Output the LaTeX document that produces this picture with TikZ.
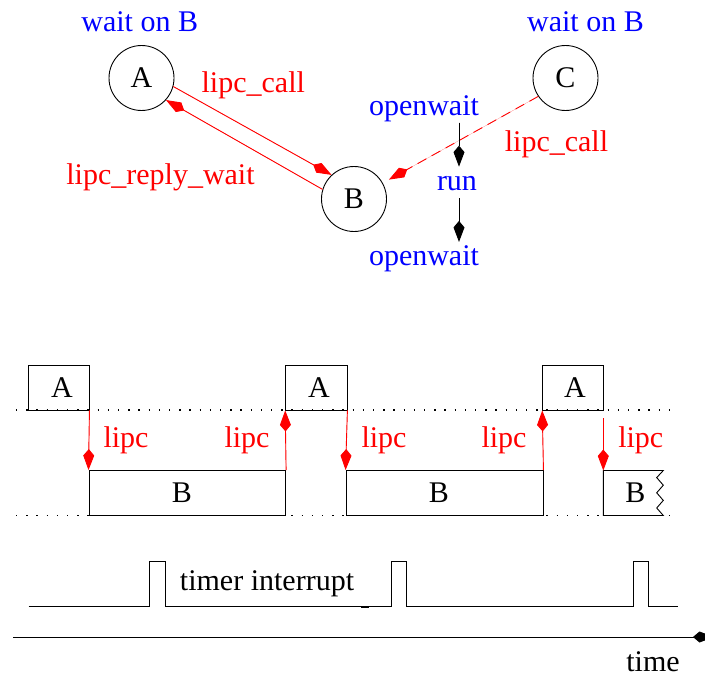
\documentclass[tikz,border=0pt]{standalone}
\usepackage{fontspec}
\setmainfont{Liberation Serif}
\usetikzlibrary{arrows.meta}
\definecolor{lblred}{RGB}{255,0,0}
\definecolor{lblblue}{RGB}{0,0,255}
\tikzset{
  every node/.style={font=\fontsize{30pt}{36pt}\selectfont, inner sep=0pt},
  kitehead/.style={-{Kite[length=21pt,width=11pt,inset=6.5pt]}},
  thread/.style={draw, circle, minimum size=65pt, inner sep=0pt, line width=0.9pt},
  slot/.style={draw, rectangle, minimum height=45pt, line width=0.9pt},
  redlbl/.style={text=lblred, anchor=base},
  bluelbl/.style={text=lblblue, anchor=base},
  blacklbl/.style={anchor=base},
  ipc/.style={kitehead, draw=lblred, fill=lblred, line width=0.9pt},
  state/.style={kitehead, draw=black, fill=black, line width=0.9pt},
  boundary/.style={line width=1.2pt, dash pattern=on 1.4pt off 8.8pt},
  wire/.style={line width=0.9pt}
}
\begin{document}
\begin{tikzpicture}[x=1pt,y=-1pt]
\useasboundingbox (0,0) rectangle (705,677);

% ---- thread graph ----
\node[thread] (A) at (141.5,78) {A};
\node[thread] (B) at (354,199) {B};
\node[thread] (C) at (565.5,78) {C};

\node[bluelbl] (waitA) at (139.7,32) {wait on B};
\node[bluelbl] (waitC) at (585.5,32) {wait on B};

\draw[ipc] (A.-15) -- (B.133);
\draw[ipc] (B.163) -- (A.-42);
\node[redlbl] (callAB) at (253.3,93) {lipc\_call};
\node[redlbl] (replyBA) at (160.5,184) {lipc\_reply\_wait};

\draw[ipc, dash pattern=on 10pt off 6pt, shorten >=7pt] (C.214) -- (B.29);
\node[redlbl] (callCB) at (556.5,151.7) {lipc\_call};

% ---- state of B ----
\node[bluelbl] (ow1) at (424,115) {openwait};
\node[bluelbl] (run) at (457,190) {run};
\node[bluelbl] (ow2) at (424,265) {openwait};
\draw[state, shorten <=1pt, shorten >=9pt] ([xshift=2pt]run.north |- ow1.south) -- ([xshift=2pt]run.north);
\draw[state, shorten <=8pt, shorten >=3pt] ([xshift=2pt]run.south) -- ([xshift=2pt]run.south |- ow2.north);

% ---- time slots ----
\draw[boundary] (16,410) -- (673,410);
\draw[boundary] (16,515.5) -- (673,515.5);

\node[slot, minimum width=61pt] (A1) at (58.5,387.5) {};
\node[slot, minimum width=196.7pt] (B1) at (187.3,493) {};
\node[slot, minimum width=61.3pt] (A2) at (316.3,387.5) {};
\node[slot, minimum width=197pt] (B2) at (444.5,493) {};
\node[slot, minimum width=60.6pt] (A3) at (573,387.5) {};

% last slot of B, cut off on the right
\draw[wire] (663.3,470.5) -- (603.3,470.5) -- (603.3,515.5) -- (663.3,515.5)
  -- (656.7,508) -- (663.3,500.4) -- (656.7,492.8) -- (663.3,485.2)
  -- (656.7,477.6) -- cycle;
\coordinate (b3top) at (603.3,470.5);
\coordinate (b3from) at (603.3,418);

% slot names
\node (A1t) at (62,387.5) {A};
\node (A2t) at (319,387.5) {A};
\node (A3t) at (575,387.5) {A};
\node (B1t) at (182,493) {B};
\node (B2t) at (439,493) {B};
\node (B3t) at (635.5,493) {B};

\draw[ipc] (A1.south east) -- (B1.north west);
\draw[ipc] (B1.north east) -- (A2.south west);
\draw[ipc] (A2.south east) -- (B2.north west);
\draw[ipc] (B2.north east) -- (A3.south west);
\draw[ipc] (b3from) -- (b3top);

\node[redlbl] (l1) at (126,447.3) {lipc};
\node[redlbl] (l2) at (247,447.3) {lipc};
\node[redlbl] (l3) at (384,447.3) {lipc};
\node[redlbl] (l4) at (504,447.3) {lipc};
\node[redlbl] (l5) at (640.8,447.3) {lipc};

% ---- timer interrupt signal ----
\draw[wire] (28.7,606.7) -- (149.3,606.7) -- (149.3,561.7) -- (165,561.7)
  -- (165,606.7) -- (391.7,606.7) -- (391.7,561.7) -- (406.7,561.7)
  -- (406.7,606.7) -- (633.3,606.7) -- (633.3,561.7) -- (648.3,561.7)
  -- (648.3,606.7) -- (678.3,606.7);
\draw[line width=2pt] (361,607.3) -- (369,607.3);
\node[blacklbl] (tirq) at (267,590) {timer interrupt};

% ---- time axis ----
\coordinate (t0) at (13,637);
\coordinate (t1) at (714,637);
\draw[state] (t0) -- (t1);
\node[blacklbl] (tlbl) at (653,671.5) {time};
\end{tikzpicture}
\end{document}
